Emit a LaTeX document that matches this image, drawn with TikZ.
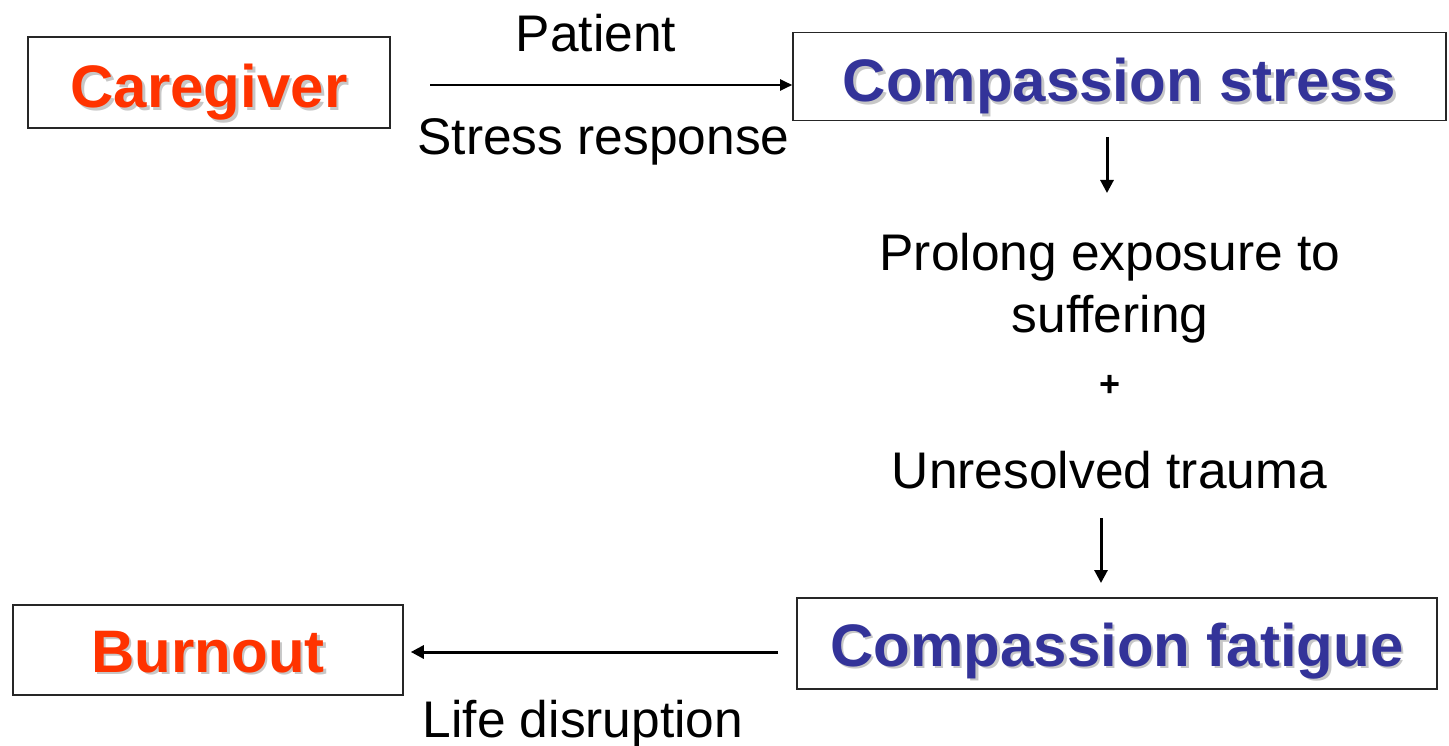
\documentclass[tikz,border=0pt]{standalone}
\usepackage{fontspec}
\setmainfont{Liberation Sans}
\usetikzlibrary{arrows.meta}
\definecolor{cgred}{HTML}{FF3300}
\definecolor{cgblue}{HTML}{333399}
\newcommand{\shtext}[1]{\makebox[0pt][l]{\hspace{2.5pt}\raisebox{-2.5pt}{\color{black!22}#1}}#1}
\begin{document}
\begin{tikzpicture}[x=1pt,y=-1pt,
  box/.style={draw=black!85,line width=1.6pt,inner sep=0pt,text depth=0pt,font=\fontsize{60}{70}\selectfont\bfseries},
  lbl/.style={anchor=base,inner sep=0pt,font=\fontsize{51.5}{60}\selectfont},
  arr/.style={line width=3pt,-{Triangle[length=13pt,width=13pt]}},
  arrthin/.style={line width=2.2pt,-{Triangle[length=12pt,width=11pt]}}]
\useasboundingbox (0,0) rectangle (1449,746);
\node[box,text=cgred,text height=51pt,minimum width=362pt,minimum height=91pt] (cg) at (209,82.5) {\shtext{Caregiver}};
\node[box,text=cgblue,text height=51pt,minimum width=653pt,minimum height=88pt] (cs) at (1119.5,76.5) {\shtext{Compassion stress}};
\node[box,text=cgblue,text height=45pt,minimum width=640pt,minimum height=91pt] (cf) at (1117,643.5) {\shtext{Compassion fatigue}};
\node[box,text=cgred,text height=44pt,minimum width=390pt,minimum height=90pt] (bo) at (208,650) {\shtext{Burnout}};
\node[lbl] (pat) at (596,52) {Patient};
\node[lbl] (sr) at (603.5,155) {Stress response};
\node[lbl] (pe) at (1110,270) {Prolong exposure to};
\node[lbl] (suf) at (1110,332) {suffering};
\node[inner sep=0pt,font=\fontsize{36}{40}\selectfont\bfseries] (plus) at (1110,386) {+};
\node[lbl] (ut) at (1109.5,488) {Unresolved trauma};
\node[lbl] (ld) at (583,737) {Life disruption};
\coordinate (t1) at (430,85);
\coordinate (d1a) at (1107,137);
\coordinate (d1b) at (1107,193);
\coordinate (d2a) at (1101,518);
\coordinate (d2b) at (1101,583);
\coordinate (l1) at (778,652);
\draw[arrthin] (t1) -- (t1 -| cs.west);
\draw[arr] (d1a) -- (d1b);
\draw[arr] (d2a) -- (d2b);
\draw[arr,shorten >=7pt] (l1) -- (l1 -| bo.east);
\end{tikzpicture}
\end{document}
